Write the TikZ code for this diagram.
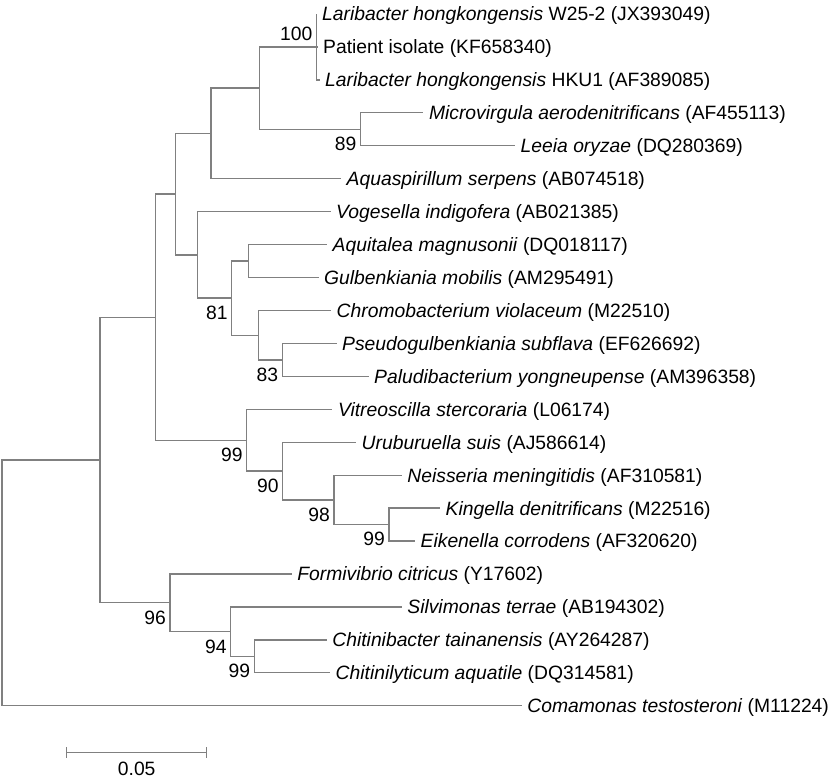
\documentclass[tikz,border=0pt]{standalone}
\usepackage{fontspec}
\setmainfont{Liberation Sans}
\definecolor{linegray}{RGB}{128,128,128}
\begin{document}
\begin{tikzpicture}[x=1pt,y=-1pt,
  branch/.style={draw=linegray, line width=1.3pt},
  taxon/.style={anchor=base west, inner sep=0pt, font=\fontsize{19.3}{23}\selectfont, xshift=5.5pt, yshift=-6.9pt},
  boot/.style={anchor=base east, inner sep=0pt, font=\fontsize{19.3}{23}\selectfont, xshift=-4pt, yshift=-21.4pt},
  bootup/.style={anchor=base east, inner sep=0pt, font=\fontsize{19.3}{23}\selectfont, xshift=-4pt, yshift=6.8pt},
  scalelabel/.style={anchor=base, inner sep=0pt, font=\fontsize{19.3}{23}\selectfont}]
\useasboundingbox (0,0) rectangle (840,782);
% leaf ends
\coordinate (l1) at (316.5,14.00);
\coordinate (l2) at (317.5,46.94);
\coordinate (l3) at (319.5,79.88);
\coordinate (l4) at (423.3,112.82);
\coordinate (l5) at (515.0,145.76);
\coordinate (l6) at (341.0,178.70);
\coordinate (l7) at (330.5,211.64);
\coordinate (l8) at (327.0,244.58);
\coordinate (l9) at (318.5,277.52);
\coordinate (l10) at (331.0,310.46);
\coordinate (l11) at (336.5,343.40);
\coordinate (l12) at (368.5,376.34);
\coordinate (l13) at (332.3,409.28);
\coordinate (l14) at (356.0,442.22);
\coordinate (l15) at (401.7,475.16);
\coordinate (l16) at (440.0,508.10);
\coordinate (l17) at (415.0,541.04);
\coordinate (l18) at (291.7,573.98);
\coordinate (l19) at (401.7,606.92);
\coordinate (l20) at (326.7,639.86);
\coordinate (l21) at (330.0,672.80);
\coordinate (l22) at (521.7,705.74);
% internal nodes
\coordinate (Lar) at (316.5,46.94);
\coordinate (Mic) at (360.5,129.29);
\coordinate (A) at (259.3,88.12);
\coordinate (B) at (211.0,133.41);
\coordinate (F) at (248.3,261.05);
\coordinate (H) at (282.3,359.87);
\coordinate (G) at (258.3,335.17);
\coordinate (E) at (231.7,298.11);
\coordinate (D) at (197.7,254.88);
\coordinate (C) at (175.7,194.14);
\coordinate (N) at (389.0,524.57);
\coordinate (M) at (334.0,499.87);
\coordinate (L) at (282.7,471.05);
\coordinate (K) at (246.7,440.16);
\coordinate (I) at (155.7,317.15);
\coordinate (Q) at (254.3,656.33);
\coordinate (P) at (230.7,631.63);
\coordinate (O) at (170.0,602.80);
\coordinate (J) at (100.0,459.98);
\coordinate (R) at (2.0,582.86);
% branches
\draw[branch] (Lar) |- (l1);
\draw[branch] (Lar) |- (l2);
\draw[branch] (Lar) |- (l3);
\draw[branch] (Mic) |- (l4);
\draw[branch] (Mic) |- (l5);
\draw[branch] (A) |- (Lar);
\draw[branch] (A) |- (Mic);
\draw[branch] (B) |- (A);
\draw[branch] (B) |- (l6);
\draw[branch] (F) |- (l8);
\draw[branch] (F) |- (l9);
\draw[branch] (H) |- (l11);
\draw[branch] (H) |- (l12);
\draw[branch] (G) |- (l10);
\draw[branch] (G) |- (H);
\draw[branch] (E) |- (F);
\draw[branch] (E) |- (G);
\draw[branch] (D) |- (l7);
\draw[branch] (D) |- (E);
\draw[branch] (C) |- (B);
\draw[branch] (C) |- (D);
\draw[branch] (N) |- (l16);
\draw[branch] (N) |- (l17);
\draw[branch] (M) |- (l15);
\draw[branch] (M) |- (N);
\draw[branch] (L) |- (l14);
\draw[branch] (L) |- (M);
\draw[branch] (K) |- (l13);
\draw[branch] (K) |- (L);
\draw[branch] (I) |- (C);
\draw[branch] (I) |- (K);
\draw[branch] (Q) |- (l20);
\draw[branch] (Q) |- (l21);
\draw[branch] (P) |- (l19);
\draw[branch] (P) |- (Q);
\draw[branch] (O) |- (l18);
\draw[branch] (O) |- (P);
\draw[branch] (J) |- (I);
\draw[branch] (J) |- (O);
\draw[branch] (R) |- (J);
\draw[branch] (R) |- (l22);
% taxa
\node[taxon] (t1) at (l1) {\textit{Laribacter hongkongensis} W25-2 (JX393049)};
\node[taxon] (t2) at (l2) {Patient isolate (KF658340)};
\node[taxon] (t3) at (l3) {\textit{Laribacter hongkongensis} HKU1 (AF389085)};
\node[taxon] (t4) at (l4) {\textit{Microvirgula aerodenitrificans} (AF455113)};
\node[taxon] (t5) at (l5) {\textit{Leeia oryzae} (DQ280369)};
\node[taxon] (t6) at (l6) {\textit{Aquaspirillum serpens} (AB074518)};
\node[taxon] (t7) at (l7) {\textit{Vogesella indigofera} (AB021385)};
\node[taxon] (t8) at (l8) {\textit{Aquitalea magnusonii} (DQ018117)};
\node[taxon] (t9) at (l9) {\textit{Gulbenkiania mobilis} (AM295491)};
\node[taxon] (t10) at (l10) {\textit{Chromobacterium violaceum} (M22510)};
\node[taxon] (t11) at (l11) {\textit{Pseudogulbenkiania subflava} (EF626692)};
\node[taxon] (t12) at (l12) {\textit{Paludibacterium yongneupense} (AM396358)};
\node[taxon] (t13) at (l13) {\textit{Vitreoscilla stercoraria} (L06174)};
\node[taxon] (t14) at (l14) {\textit{Uruburuella suis} (AJ586614)};
\node[taxon] (t15) at (l15) {\textit{Neisseria meningitidis} (AF310581)};
\node[taxon] (t16) at (l16) {\textit{Kingella denitrificans} (M22516)};
\node[taxon] (t17) at (l17) {\textit{Eikenella corrodens} (AF320620)};
\node[taxon] (t18) at (l18) {\textit{Formivibrio citricus} (Y17602)};
\node[taxon] (t19) at (l19) {\textit{Silvimonas terrae} (AB194302)};
\node[taxon] (t20) at (l20) {\textit{Chitinibacter tainanensis} (AY264287)};
\node[taxon] (t21) at (l21) {\textit{Chitinilyticum aquatile} (DQ314581)};
\node[taxon] (t22) at (l22) {\textit{Comamonas testosteroni} (M11224)};
% bootstrap values
\node[bootup] (bLar) at (Lar) {100};
\node[boot] (bMic) at (Mic) {89};
\node[boot] (bE) at (E) {81};
\node[boot] (bH) at (H) {83};
\node[boot] (bK) at (K) {99};
\node[boot] (bL) at (L) {90};
\node[boot] (bM) at (M) {98};
\node[boot] (bN) at (N) {99};
\node[boot] (bO) at (O) {96};
\node[boot] (bP) at (P) {94};
\node[boot] (bQ) at (Q) {99};
% scale bar
\coordinate (s1) at (66.7,752.3);
\coordinate (s2) at (206.7,752.3);
\draw[branch] (s1) -- (s2);
\draw[branch] ([yshift=5.3pt]s1) -- ([yshift=-5.3pt]s1);
\draw[branch] ([yshift=5.3pt]s2) -- ([yshift=-5.3pt]s2);
\node[scalelabel] (sl) at (136.7,775.1) {0.05};
\end{tikzpicture}
\end{document}
